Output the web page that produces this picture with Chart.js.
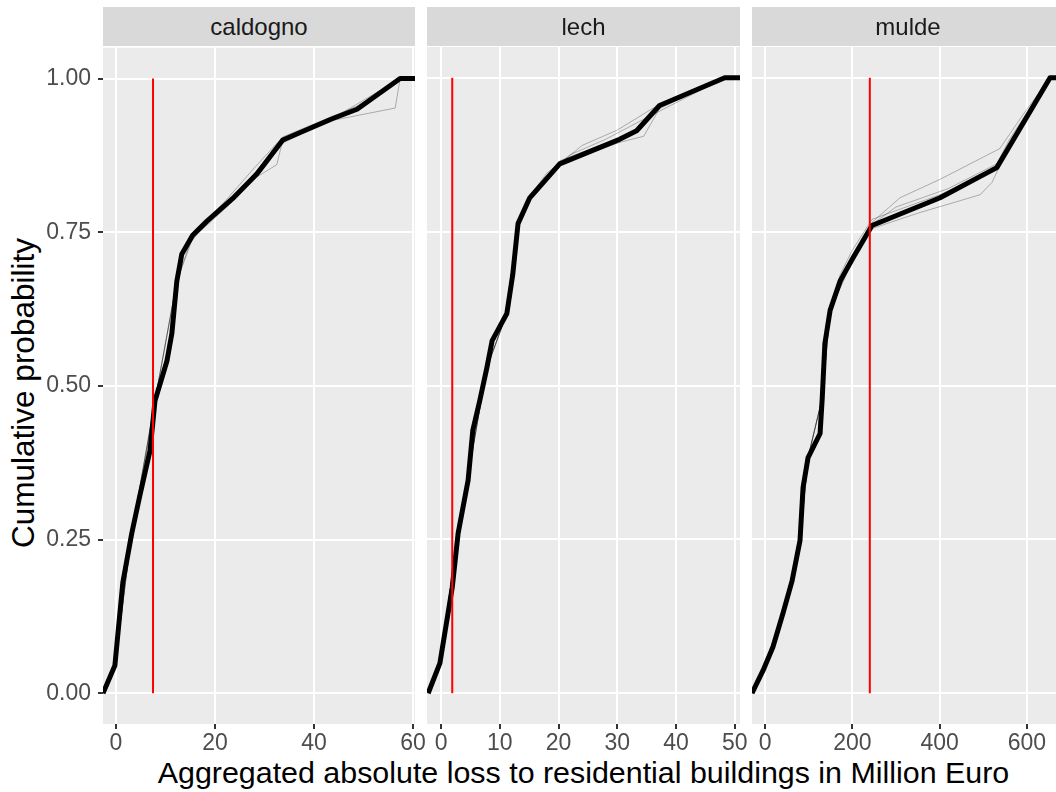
<!DOCTYPE html>
<html>
<head>
<meta charset="utf-8">
<script src="https://cdn.jsdelivr.net/npm/chart.js@4.4.1/dist/chart.umd.min.js"></script>
<style>
  html, body { margin: 0; padding: 0; background: #fff; width: 1056px; height: 792px; overflow: hidden; }
  body { position: relative; font-family: "Liberation Sans", Arial, sans-serif; }
  canvas { position: absolute; }
  .strip { position: absolute; top: 7px; height: 39px; line-height: 39px; background: #d9d9d9;
           color: #1a1a1a; font-size: 24px; text-align: center; z-index: 2; }
  .xtitle { position: absolute; left: 103px; width: 961px; top: 755px; line-height: 34px;
            font-size: 30.4px; color: #000; text-align: center; white-space: nowrap; }
  .ytitle { position: absolute; left: -316px; top: 376px; width: 677px; height: 34px; line-height: 34px;
            font-size: 31.5px; color: #000; text-align: center; white-space: nowrap; transform: rotate(-90deg); }
</style>
</head>
<body>
<div class="xtitle">Aggregated absolute loss to residential buildings in Million Euro</div>
<div class="ytitle">Cumulative probability</div>
<script>
// facet names
var panels = ['caldogno', 'lech', 'mulde'];

// main (thick black) ECDF lines
var caldognoLoss = [-2.6, -0.2, 1.4, 3.2, 4.8, 6.9, 7.9, 10.3, 11.3, 12.3, 13.3, 15.5, 18.4, 23.6, 28.5, 33.7, 43.8, 48.7, 57.4, 60.4];
var caldognoProb = [0, 0.045, 0.18, 0.26, 0.32, 0.395, 0.476, 0.54, 0.585, 0.67, 0.714, 0.745, 0.768, 0.805, 0.845, 0.90, 0.935, 0.95, 1.0, 1.0];

var lechLoss = [-2.2, -0.2, 1.9, 2.9, 4.6, 5.4, 6.6, 7.8, 8.7, 11.2, 12.2, 13.1, 15.1, 20.2, 30.4, 33.3, 37.2, 48.3, 50.9];
var lechProb = [0, 0.049, 0.172, 0.26, 0.346, 0.427, 0.476, 0.529, 0.573, 0.617, 0.68, 0.763, 0.805, 0.86, 0.90, 0.914, 0.955, 1.0, 1.0];

var muldeLoss = [-30, -4.6, 18, 41, 62, 80, 87, 98.5, 126, 131, 137, 149, 172, 202, 245, 401, 531, 653, 685];
var muldeProb = [0, 0.037, 0.075, 0.13, 0.183, 0.248, 0.334, 0.383, 0.422, 0.48, 0.568, 0.622, 0.67, 0.708, 0.76, 0.805, 0.854, 1.0, 1.0];

// thin grey simulation lines [loss, prob]
var caldognoSims = [
  [[-2.6, 0], [-0.2, 0.045], [1.4, 0.18], [4.8, 0.32], [7.9, 0.476], [11.3, 0.585], [13.3, 0.714], [18.4, 0.768], [23.6, 0.805], [28.5, 0.84], [32.5, 0.86], [33.7, 0.9], [43.8, 0.935], [48.7, 0.95], [57.4, 1], [60.4, 1]],
  [[-2.6, 0], [-0.2, 0.045], [3.2, 0.26], [7.9, 0.476], [12.3, 0.67], [15.5, 0.745], [23.6, 0.805], [33.7, 0.9], [43.8, 0.932], [56.4, 0.952], [57.4, 1], [60.4, 1]],
  [[-2.6, 0], [-0.2, 0.045], [3.2, 0.26], [7.9, 0.476], [12.3, 0.67], [13.3, 0.72], [17, 0.76], [22, 0.8], [28, 0.855], [33.7, 0.905], [48.7, 0.955], [57.4, 1], [60.4, 1]],
  [[-2.6, 0], [-0.2, 0.045], [3.2, 0.26], [7.9, 0.476], [12.3, 0.67], [15.5, 0.74], [23.6, 0.8], [30, 0.855], [33.7, 0.895], [43.8, 0.935], [57.4, 1], [60.4, 1]]
];
var lechSims = [
  [[-2.2, 0], [-0.2, 0.049], [2.9, 0.26], [7.8, 0.529], [11.2, 0.617], [13.1, 0.763], [15.1, 0.805], [20.2, 0.86], [24, 0.89], [30, 0.915], [36, 0.95], [48.3, 1], [50.9, 1]],
  [[-2.2, 0], [-0.2, 0.049], [2.9, 0.26], [7.8, 0.529], [11.2, 0.617], [13.1, 0.763], [15.1, 0.81], [20.2, 0.865], [27, 0.89], [33, 0.91], [37.2, 0.955], [48.3, 1], [50.9, 1]],
  [[-2.2, 0], [-0.2, 0.049], [2.9, 0.26], [7.8, 0.529], [11.2, 0.617], [13.1, 0.763], [15.1, 0.805], [20.2, 0.86], [30.4, 0.895], [34.5, 0.905], [37.2, 0.95], [48.3, 1], [50.9, 1]],
  [[-2.2, 0], [-0.2, 0.049], [2.9, 0.26], [7.8, 0.529], [11.2, 0.617], [13.1, 0.763], [14.5, 0.8], [18, 0.845], [22, 0.875], [28, 0.9], [35, 0.935], [48.3, 1], [50.9, 1]]
];
var muldeSims = [
  [[-30, 0], [-4.6, 0.037], [41, 0.13], [80, 0.248], [98.5, 0.383], [131, 0.48], [149, 0.622], [202, 0.71], [245, 0.765], [309, 0.805], [401, 0.835], [538, 0.885], [591, 0.94], [653, 1], [685, 1]],
  [[-30, 0], [-4.6, 0.037], [41, 0.13], [80, 0.248], [98.5, 0.383], [131, 0.48], [149, 0.622], [202, 0.708], [245, 0.762], [300, 0.79], [420, 0.82], [531, 0.86], [560, 0.9], [653, 1], [685, 1]],
  [[-30, 0], [-4.6, 0.037], [41, 0.13], [80, 0.248], [98.5, 0.383], [131, 0.48], [149, 0.622], [202, 0.705], [245, 0.755], [350, 0.78], [493, 0.81], [520, 0.83], [560, 0.89], [653, 1], [685, 1]],
  [[-30, 0], [-4.6, 0.037], [41, 0.13], [80, 0.248], [98.5, 0.383], [131, 0.48], [140, 0.6], [172, 0.68], [200, 0.72], [245, 0.77], [401, 0.81], [531, 0.85], [653, 1], [685, 1]]
];

// observed loss (red vertical lines)
var observedLoss = [7.5, 1.9, 240];

// axes
var lossMin = [-2.6, -2.4, -30];
var lossMax = [60.4, 50.9, 685];
var lossTicks = [[0, 20, 40, 60], [0, 10, 20, 30, 40, 50], [0, 200, 400, 600]];
var probTicks = [0, 0.25, 0.5, 0.75, 1];
var probMin = -0.05, probMax = 1.05;

var mainLines = [[caldognoLoss, caldognoProb], [lechLoss, lechProb], [muldeLoss, muldeProb]];
var simLines = [caldognoSims, lechSims, muldeSims];

// panel boxes on the page
var boxes = [{ left: 103, right: 415 }, { left: 427, right: 740 }, { left: 752, right: 1064 }];
var plotTop = 47, plotBottom = 724;
var fontFam = '"Liberation Sans", Arial, sans-serif';

var panelBg = {
  id: 'panelBg',
  beforeDraw: function(chart) {
    var a = chart.chartArea, ctx = chart.ctx;
    ctx.save();
    ctx.fillStyle = '#ebebeb';
    ctx.fillRect(a.left, a.top, a.right - a.left, a.bottom - a.top);
    ctx.restore();
  }
};

function pts(xs, ys) {
  return xs.map(function(x, k) { return { x: x, y: ys[k] }; });
}

panels.forEach(function(name, i) {
  var box = boxes[i];
  var yAxisW = i === 0 ? 103 : 0;
  var padL = i === 0 ? 0 : 20;
  var xAxisH = 36;

  var strip = document.createElement('div');
  strip.className = 'strip';
  strip.style.left = box.left + 'px';
  strip.style.width = (box.right - box.left) + 'px';
  strip.textContent = name;
  document.body.appendChild(strip);

  var cv = document.createElement('canvas');
  var w = (box.right - box.left) + yAxisW + padL + 20;
  var h = (plotBottom - plotTop) + 20 + xAxisH;
  cv.width = w; cv.height = h;
  cv.style.left = (box.left - yAxisW - padL) + 'px';
  cv.style.top = (plotTop - 20) + 'px';
  cv.style.width = w + 'px'; cv.style.height = h + 'px';
  document.body.appendChild(cv);

  var datasets = [{
    data: [{ x: observedLoss[i], y: 0 }, { x: observedLoss[i], y: 1 }],
    showLine: true, borderColor: '#ff0000', borderWidth: 2, pointRadius: 0, order: 0
  }, {
    data: pts(mainLines[i][0], mainLines[i][1]),
    showLine: true, borderColor: '#000', borderWidth: 5, borderJoinStyle: 'round', pointRadius: 0, order: 1
  }];
  simLines[i].forEach(function(s) {
    datasets.push({
      data: s.map(function(p) { return { x: p[0], y: p[1] }; }),
      showLine: true, borderColor: 'rgba(0,0,0,0.28)', borderWidth: 1, pointRadius: 0, order: 2
    });
  });

  new Chart(cv, {
    type: 'scatter',
    data: { datasets: datasets },
    options: {
      responsive: false,
      animation: false,
      events: [],
      layout: { padding: { top: 20, right: 20, left: padL, bottom: 0 } },
      plugins: { legend: { display: false }, tooltip: { enabled: false } },
      scales: {
        x: {
          type: 'linear', min: lossMin[i], max: lossMax[i],
          afterBuildTicks: function(s) { s.ticks = lossTicks[i].map(function(v) { return { value: v }; }); },
          afterFit: function(s) { s.height = xAxisH; },
          border: { display: false },
          grid: { color: '#fff', lineWidth: 2, tickColor: '#333', tickLength: 5, tickWidth: 2 },
          ticks: { autoSkip: false, maxRotation: 0, padding: 1, color: '#4d4d4d',
                   font: { family: fontFam, size: 23 },
                   callback: function(v) { return String(v); } }
        },
        y: {
          type: 'linear', min: probMin, max: probMax,
          afterBuildTicks: function(s) { s.ticks = probTicks.map(function(v) { return { value: v }; }); },
          afterFit: function(s) { s.width = yAxisW; },
          border: { display: false },
          grid: { color: '#fff', lineWidth: 2, tickColor: '#333', tickLength: 5, tickWidth: 2, drawTicks: i === 0 },
          ticks: { display: i === 0, autoSkip: false, padding: 7, color: '#4d4d4d',
                   font: { family: fontFam, size: 23 },
                   callback: function(v) { return v.toFixed(2); } }
        }
      }
    },
    plugins: [panelBg]
  });
});
</script>
</body>
</html>
